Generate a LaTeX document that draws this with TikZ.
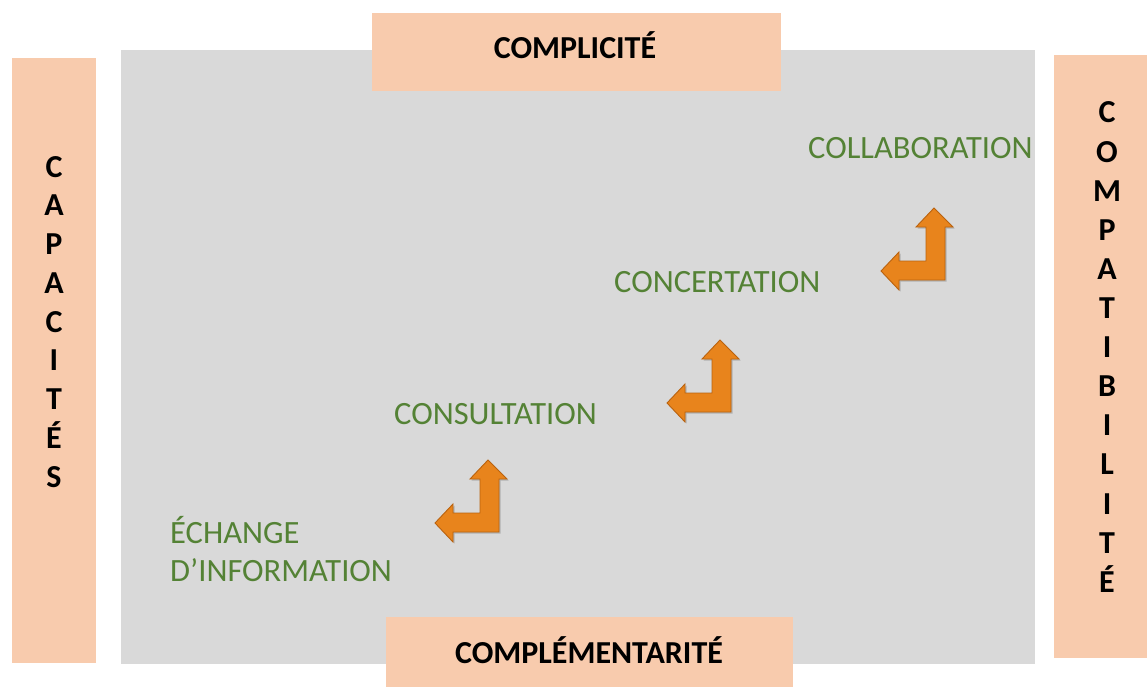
\documentclass[tikz,border=0pt]{standalone}
\usepackage{fontspec}
\setmainfont{Carlito}
\usepackage{tikz}
\usetikzlibrary{calc}

\definecolor{peach}{HTML}{F8CBAD}
\definecolor{panel}{HTML}{D9D9D9}
\definecolor{stage}{HTML}{548235}
\definecolor{arrowfill}{HTML}{E8841C}
\definecolor{arrowedge}{HTML}{B9620F}

\tikzset{
  side/.style={font=\fontsize{32}{38}\selectfont\bfseries, text=black, inner sep=0pt},
  stagetext/.style={font=\fontsize{32.5}{38}\selectfont, text=stage, inner sep=0pt, anchor=base west},
  bentarrow/.style={fill=arrowfill, draw=arrowedge, line width=0.9pt, line join=miter},
  bentshadow/.style={fill=black, opacity=0.18, draw=none}
}

\begin{document}
\begin{tikzpicture}[x=1pt, y=-1pt]
  \useasboundingbox (0,0) rectangle (1147,687);
  % background panel
  \fill[panel] (121,50) rectangle (1035,664);
  % side boxes
  \fill[peach] (12,58) rectangle (96,663);
  \fill[peach] (1054,55) rectangle (1147,658);
  \fill[peach] (372,13) rectangle (781,91);
  \fill[peach] (386,617) rectangle (793,687);
  % top and bottom labels
  \node[side, anchor=base] (complicite) at (575,59) {COMPLICITÉ};
  \node[side, anchor=base] (complementarite) at (589,663) {COMPLÉMENTARITÉ};
  % left column
  \foreach \l [count=\i from 0] in {C,A,P,A,C,I,T,É,S}
    \node[side, anchor=base] (cap\i) at (54,177+38.75*\i) {\l};
  % right column
  \foreach \l [count=\i from 0] in {C,O,M,P,A,T,I,B,I,L,I,T,É}
    \node[side, anchor=base] (compat\i) at (1107,123+39.1*\i) {\l};
  % stages
  \node[stagetext] (echange) at (170,543) {ÉCHANGE};
  \node[stagetext] (information) at (170,581) {D’INFORMATION};
  \node[stagetext] (consultation) at (394,424) {CONSULTATION};
  \node[stagetext] (concertation) at (614,292) {CONCERTATION};
  \node[stagetext] (collaboration) at (808,159) {COLLABORATION};
  % bent arrows
  \foreach \cx/\cy in {499/532, 731/412, 945/280} {
    \fill[bentshadow, shift={(\cx+1.5,\cy+1.5)}]
      (-11,-72) -- (8,-53) -- (0,-53) -- (0,0) -- (-46,0) -- (-46,10) -- (-64,-9)
      -- (-46,-28) -- (-46,-19) -- (-19,-19) -- (-19,-53) -- (-29,-53) -- cycle;
    \draw[bentarrow, shift={(\cx,\cy)}]
      (-11,-72) -- (8,-53) -- (0,-53) -- (0,0) -- (-46,0) -- (-46,10) -- (-64,-9)
      -- (-46,-28) -- (-46,-19) -- (-19,-19) -- (-19,-53) -- (-29,-53) -- cycle;
  }
\end{tikzpicture}
\end{document}
